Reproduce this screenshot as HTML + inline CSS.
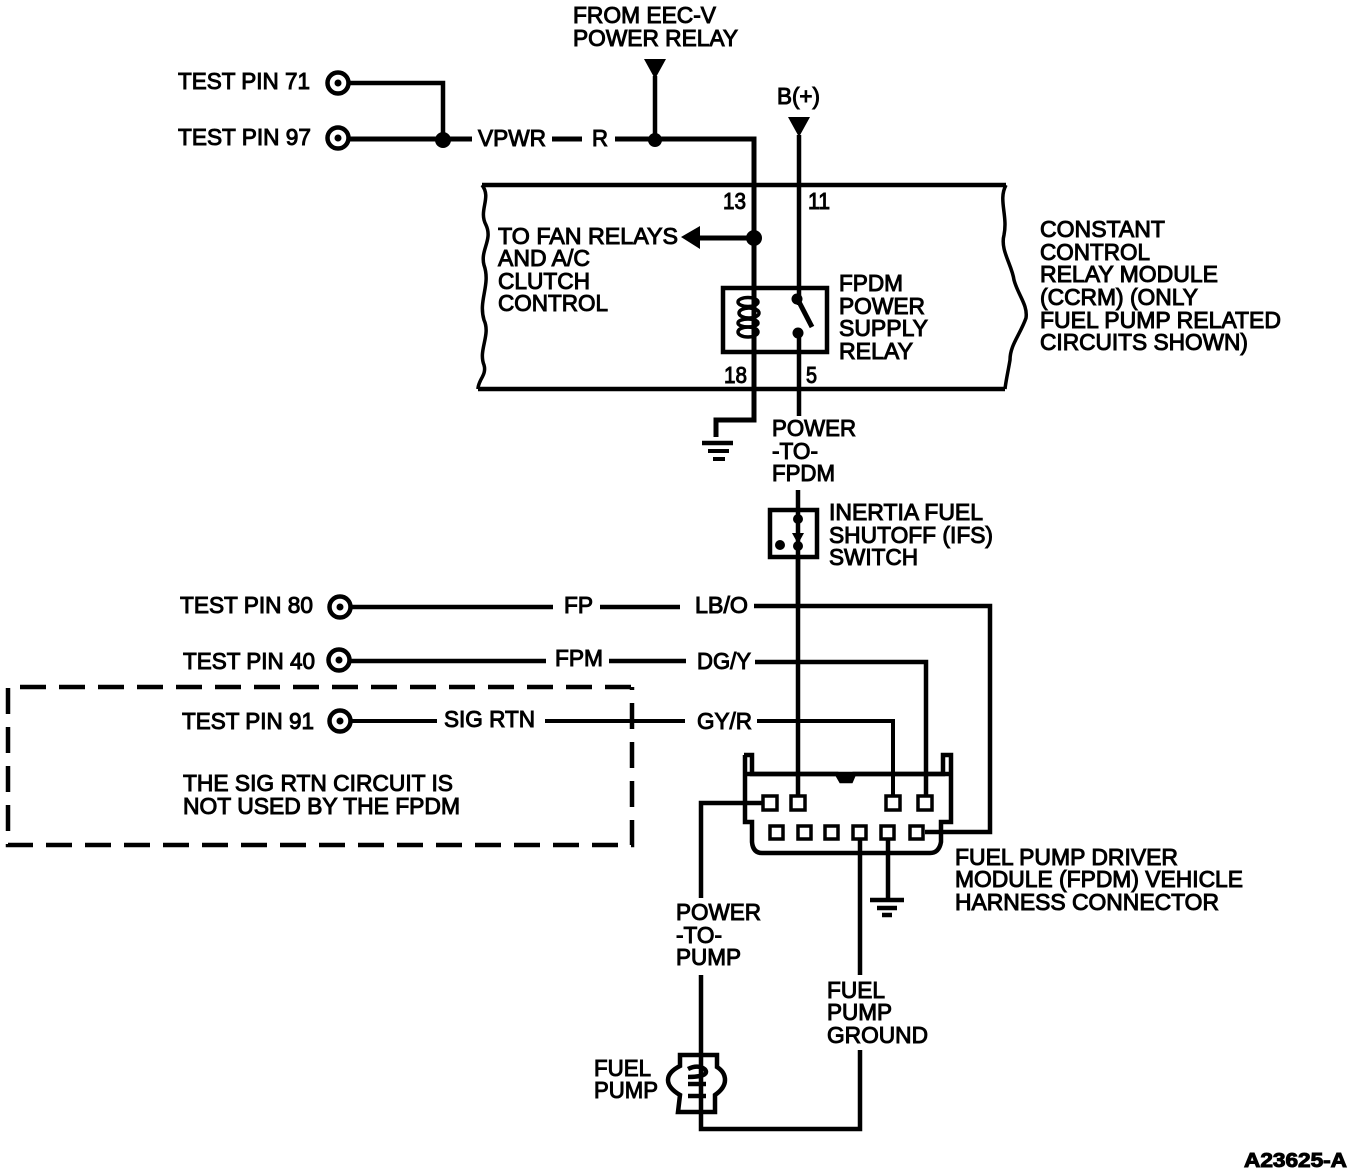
<!DOCTYPE html>
<html lang="en">
<head>
<meta charset="utf-8">
<title>Fuel pump circuit diagram</title>
<style>
html,body{margin:0;padding:0;background:#fff;width:1360px;height:1176px;overflow:hidden}
svg{display:block}
text{font-family:"Liberation Sans",sans-serif;font-size:23px;fill:#000;stroke:#000;stroke-width:1px}
.w{fill:none;stroke:#000;stroke-width:4.5;stroke-linejoin:miter}
.f{fill:#000;stroke:none}
</style>
</head>
<body>
<svg xmlns="http://www.w3.org/2000/svg" width="1360" height="1176" viewBox="0 0 1360 1176">
<!-- Module outline -->
<path class="w" d="M482 185H1006M478 389H1005"/>
<path class="w" style="stroke-width:3.5" d="M482 185C492 198 478 210 486 225C493 240 480 250 484 265C491 285 478 300 484 320C491 335 478 350 484 365C487 375 478 380 478 389"/>
<path class="w" style="stroke-width:3.5" d="M1006 185C998 200 1008 215 1004 235C1000 250 1012 265 1014 280C1018 295 1028 305 1026 318C1020 335 1010 345 1010 360C1008 372 1006 380 1005 389"/>

<!-- Top wiring -->
<circle class="w" cx="338" cy="83" r="10.5"/><circle class="f" cx="338" cy="83" r="3.5"/>
<circle class="w" cx="338" cy="138" r="10.5"/><circle class="f" cx="338" cy="138" r="3.5"/>
<path class="w" d="M349 83H443V140"/>
<path class="w" style="stroke-width:5" d="M349 139H472M552 139H582M615 139H754V420H716V437"/>
<circle class="f" cx="443" cy="140" r="8"/>
<circle class="f" cx="655" cy="140" r="7"/>
<path class="w" d="M655 76V140"/>
<polygon class="f" points="644,59 666,59 655,79"/>
<polygon class="f" points="788,117 810,117 799,137"/>
<path class="w" d="M799 135V305M799 335V416"/>
<path class="w" style="stroke-width:5" d="M698 238H754"/>
<polygon class="f" points="681,237 700,226 700,249"/>
<circle class="f" cx="754" cy="238" r="8"/>

<!-- Relay -->
<rect class="w" x="723" y="288" width="104" height="64"/>
<g class="w" style="stroke-width:3.5">
<ellipse cx="748" cy="302" rx="10" ry="4.5"/>
<ellipse cx="749" cy="313" rx="10" ry="5"/>
<ellipse cx="748" cy="323" rx="10" ry="4"/>
<ellipse cx="748" cy="332" rx="10" ry="5"/>
</g>
<path class="w" style="stroke-width:5" d="M797 298L812 327"/>
<circle class="f" cx="797" cy="299" r="5.5"/>
<circle class="f" cx="798" cy="333" r="5.5"/>

<!-- Upper ground -->
<path class="w" d="M702 443H733"/>
<path class="w" style="stroke-width:4" d="M708 451H729M713 459H725"/>

<!-- IFS switch -->
<path class="w" d="M798 490V510"/>
<rect class="w" x="770" y="510" width="47" height="47"/>
<path class="w" d="M798 510V606"/>
<circle class="f" cx="798" cy="519" r="5"/>
<polygon class="f" points="792,533 804,533 798,544"/>
<circle class="f" cx="798" cy="546" r="5"/>
<circle class="f" cx="780" cy="545" r="5"/>
<path class="w" d="M798 555V796"/>

<!-- Test pin rows -->
<circle class="w" cx="340" cy="607" r="10.5"/><circle class="f" cx="340" cy="607" r="3.5"/>
<circle class="w" cx="339" cy="660" r="10.5"/><circle class="f" cx="339" cy="660" r="3.5"/>
<circle class="w" cx="340" cy="721" r="10.5"/><circle class="f" cx="340" cy="721" r="3.5"/>
<path class="w" d="M351 607H553M600 607H680M754 606H990V832H925"/>
<path class="w" d="M351 661H546M609 661H686M755 662H926V796"/>
<path class="w" style="stroke-width:4" d="M351 721H437M545 721H685M757 721H893V796"/>

<!-- Dashed box -->
<path class="w" stroke-dasharray="26 13" d="M631 687H8V845H632V687"/>

<!-- Connector -->
<path class="w" d="M744 755H752V774H837L841 781H851L854 774H943V755H951V822H941V842Q939 853 930 853H762Q753 853 752 842V822H745V755"/>
<path class="w" d="M744 774H952"/>
<polygon class="f" points="837,774 854,774 851,782 841,782"/>
<g class="w" style="stroke-width:3.5">
<rect x="763" y="796" width="14" height="14" fill="#fff"/>
<rect x="791" y="796" width="14" height="14" fill="#fff"/>
<rect x="886" y="796" width="14" height="14" fill="#fff"/>
<rect x="918" y="796" width="14" height="14" fill="#fff"/>
<rect x="770" y="826" width="13" height="13" fill="#fff"/>
<rect x="798" y="826" width="13" height="13" fill="#fff"/>
<rect x="825" y="826" width="13" height="13" fill="#fff"/>
<rect x="853" y="826" width="13" height="13" fill="#fff"/>
<rect x="881" y="826" width="13" height="13" fill="#fff"/>
<rect x="910" y="826" width="13" height="13" fill="#fff"/>
</g>

<!-- Lower wiring -->
<path class="w" d="M763 803H701V898M701 975V1055M701 1112V1129H860V1050M860 839V975M888 839V900"/>
<path class="w" d="M870 900H904"/>
<path class="w" d="M877 908H897M882 915H892"/>

<!-- Pump -->
<path class="w" d="M680 1055H717V1067Q725 1072 725 1080Q725 1088 715 1095V1112H678L680 1095Q668 1088 668 1080Q668 1072 680 1066Z"/>
<path class="w" d="M701 1055V1112"/>
<path class="w" style="stroke-width:4.5" d="M688 1069C698 1064 706 1068 706 1072C706 1076 696 1077 688 1077M688 1084H706M688 1096H706"/>

<!-- Labels -->
<g transform="translate(0,-1)">
<text x="573" y="24" textLength="143" lengthAdjust="spacingAndGlyphs">FROM EEC-V</text>
<text x="573" y="47" textLength="165" lengthAdjust="spacingAndGlyphs">POWER RELAY</text>
<text x="777" y="105" textLength="43" lengthAdjust="spacingAndGlyphs">B(+)</text>
<text x="178" y="90" textLength="132" lengthAdjust="spacingAndGlyphs">TEST PIN 71</text>
<text x="178" y="146" textLength="133" lengthAdjust="spacingAndGlyphs">TEST PIN 97</text>
<text x="478" y="147" textLength="68" lengthAdjust="spacingAndGlyphs">VPWR</text>
<text x="592" y="147" textLength="16" lengthAdjust="spacingAndGlyphs">R</text>
<text x="723" y="210" textLength="23" lengthAdjust="spacingAndGlyphs">13</text>
<text x="808" y="210" textLength="22" lengthAdjust="spacingAndGlyphs">11</text>
<text x="498" y="245" textLength="180" lengthAdjust="spacingAndGlyphs">TO FAN RELAYS</text>
<text x="498" y="267" textLength="92" lengthAdjust="spacingAndGlyphs">AND A/C</text>
<text x="498" y="290" textLength="92" lengthAdjust="spacingAndGlyphs">CLUTCH</text>
<text x="498" y="312" textLength="110" lengthAdjust="spacingAndGlyphs">CONTROL</text>
<text x="839" y="292" textLength="64" lengthAdjust="spacingAndGlyphs">FPDM</text>
<text x="839" y="315" textLength="86" lengthAdjust="spacingAndGlyphs">POWER</text>
<text x="839" y="337" textLength="89" lengthAdjust="spacingAndGlyphs">SUPPLY</text>
<text x="839" y="360" textLength="74" lengthAdjust="spacingAndGlyphs">RELAY</text>
<text x="724" y="384" textLength="23" lengthAdjust="spacingAndGlyphs">18</text>
<text x="806" y="384" textLength="11" lengthAdjust="spacingAndGlyphs">5</text>
<text x="772" y="437" textLength="84" lengthAdjust="spacingAndGlyphs">POWER</text>
<text x="772" y="460" textLength="46" lengthAdjust="spacingAndGlyphs">-TO-</text>
<text x="772" y="482" textLength="63" lengthAdjust="spacingAndGlyphs">FPDM</text>
<text x="829" y="521" textLength="154" lengthAdjust="spacingAndGlyphs">INERTIA FUEL</text>
<text x="829" y="544" textLength="164" lengthAdjust="spacingAndGlyphs">SHUTOFF (IFS)</text>
<text x="829" y="566" textLength="89" lengthAdjust="spacingAndGlyphs">SWITCH</text>
<text x="1040" y="238" textLength="125" lengthAdjust="spacingAndGlyphs">CONSTANT</text>
<text x="1040" y="261" textLength="110" lengthAdjust="spacingAndGlyphs">CONTROL</text>
<text x="1040" y="283" textLength="178" lengthAdjust="spacingAndGlyphs">RELAY MODULE</text>
<text x="1040" y="306" textLength="158" lengthAdjust="spacingAndGlyphs">(CCRM) (ONLY</text>
<text x="1040" y="329" textLength="241" lengthAdjust="spacingAndGlyphs">FUEL PUMP RELATED</text>
<text x="1040" y="351" textLength="208" lengthAdjust="spacingAndGlyphs">CIRCUITS SHOWN)</text>
<text x="180" y="614" textLength="133" lengthAdjust="spacingAndGlyphs">TEST PIN 80</text>
<text x="564" y="614" textLength="29" lengthAdjust="spacingAndGlyphs">FP</text>
<text x="695" y="614" textLength="53" lengthAdjust="spacingAndGlyphs">LB/O</text>
<text x="183" y="670" textLength="132" lengthAdjust="spacingAndGlyphs">TEST PIN 40</text>
<text x="555" y="667" textLength="48" lengthAdjust="spacingAndGlyphs">FPM</text>
<text x="697" y="670" textLength="54" lengthAdjust="spacingAndGlyphs">DG/Y</text>
<text x="182" y="730" textLength="132" lengthAdjust="spacingAndGlyphs">TEST PIN 91</text>
<text x="444" y="728" textLength="91" lengthAdjust="spacingAndGlyphs">SIG RTN</text>
<text x="697" y="730" textLength="55" lengthAdjust="spacingAndGlyphs">GY/R</text>
<text x="183" y="792" textLength="270" lengthAdjust="spacingAndGlyphs">THE SIG RTN CIRCUIT IS</text>
<text x="183" y="815" textLength="277" lengthAdjust="spacingAndGlyphs">NOT USED BY THE FPDM</text>
<text x="955" y="866" textLength="223" lengthAdjust="spacingAndGlyphs">FUEL PUMP DRIVER</text>
<text x="955" y="888" textLength="288" lengthAdjust="spacingAndGlyphs">MODULE (FPDM) VEHICLE</text>
<text x="955" y="911" textLength="264" lengthAdjust="spacingAndGlyphs">HARNESS CONNECTOR</text>
<text x="676" y="921" textLength="85" lengthAdjust="spacingAndGlyphs">POWER</text>
<text x="676" y="944" textLength="46" lengthAdjust="spacingAndGlyphs">-TO-</text>
<text x="676" y="966" textLength="65" lengthAdjust="spacingAndGlyphs">PUMP</text>
<text x="827" y="999" textLength="58" lengthAdjust="spacingAndGlyphs">FUEL</text>
<text x="827" y="1021" textLength="65" lengthAdjust="spacingAndGlyphs">PUMP</text>
<text x="827" y="1044" textLength="101" lengthAdjust="spacingAndGlyphs">GROUND</text>
<text x="594" y="1077" textLength="57" lengthAdjust="spacingAndGlyphs">FUEL</text>
<text x="594" y="1099" textLength="64" lengthAdjust="spacingAndGlyphs">PUMP</text>
<text x="1244" y="1168" textLength="103" lengthAdjust="spacingAndGlyphs" style="font-size:20px;font-weight:bold">A23625-A</text>
</g>
</svg>
</body>
</html>
